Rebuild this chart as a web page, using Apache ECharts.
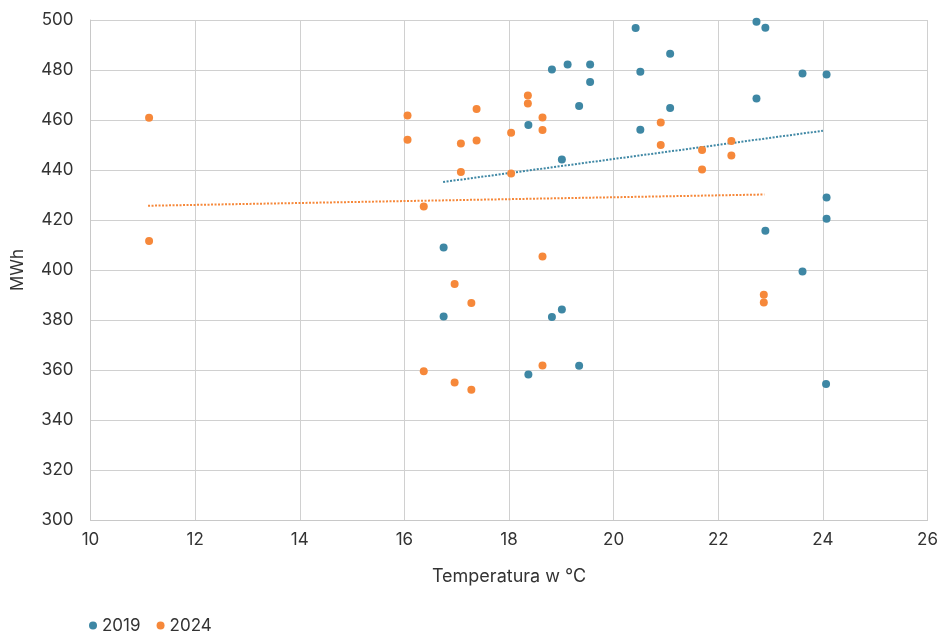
<!DOCTYPE html>
<html><head><meta charset="utf-8">
<script src="https://cdn.jsdelivr.net/npm/echarts@6/dist/echarts.min.js"></script>
<style>html,body{margin:0;padding:0;background:#fff}#c{width:941px;height:632px}</style>
</head><body><div id="c"></div>
<script>
const seriesNames = ['2019', '2024'];
const temps2019 = [22.73,22.90,20.42,21.08,18.82,19.12,19.55,19.55,20.51,19.34,21.08,18.37,20.51,19.01,22.73,23.61,24.07,24.07,24.07,22.90,23.61,24.06,16.75,16.75,18.82,19.01,18.37,19.34];
const mwh2019   = [499.3,496.9,496.8,486.5,480.2,482.2,482.2,475.2,479.3,465.6,464.8,458.0,456.1,444.2,468.6,478.6,478.2,429.0,420.5,415.7,399.4,354.4,409.0,381.4,381.2,384.2,358.2,361.7];
const temps2024 = [11.12,11.12,16.06,16.06,17.38,17.08,17.38,18.36,18.36,18.64,18.64,18.04,17.08,18.04,16.37,20.90,20.90,21.69,21.69,22.25,22.25,22.87,22.87,18.64,16.96,17.28,16.37,16.96,17.28,18.64];
const mwh2024   = [460.9,411.6,461.8,452.1,464.4,450.6,451.8,469.8,466.6,461.0,456.0,454.9,439.2,438.6,425.4,459.0,450.0,448.0,440.2,451.6,445.8,390.1,387.0,405.4,394.4,386.8,359.5,355.0,352.1,361.8];
const trend2019 = [[16.74,435.2],[24.0,455.7]];
const trend2024 = [[11.1,425.7],[22.88,430.2]];
const colors = ['#3E87A4', '#F6883A'];

const font = 'Inter, "Noto Sans", sans-serif';
const zip = (a,b) => a.map((v,i)=>[v,b[i]]);
const chart = echarts.init(document.getElementById('c'), null, {renderer:'canvas'});
chart.setOption({
  animation:false,
  textStyle:{fontFamily:font},
  grid:{left:90.5, right:13, top:20, bottom:112, containLabel:false},
  legend:{
    data:seriesNames, left:84, top:612, icon:'circle', itemWidth:8, itemHeight:8, itemGap:16,
    padding:[5,5,0,5],
    textStyle:{fontSize:17, color:'#333', fontFamily:font}
  },
  xAxis:{
    type:'value', min:10, max:26, interval:2,
    name:'Temperatura w °C', nameLocation:'middle', nameGap:48,
    nameTextStyle:{fontSize:18, color:'#333'},
    axisLine:{show:true, lineStyle:{color:'#c8c8c8'}},
    axisTick:{show:false},
    axisLabel:{fontSize:17, color:'#333', margin:11},
    splitLine:{show:true, lineStyle:{color:'#d0d0d0', width:1}}
  },
  yAxis:{
    type:'value', min:300, max:500, interval:20,
    name:'MWh', nameLocation:'middle', nameGap:64,
    nameTextStyle:{fontSize:17, color:'#333'},
    axisLine:{show:true, lineStyle:{color:'#c8c8c8'}},
    axisTick:{show:false},
    axisLabel:{fontSize:17, color:'#333', margin:17},
    splitLine:{show:true, lineStyle:{color:'#d0d0d0', width:1}}
  },
  series:[
    {name:'2019', type:'scatter', data:zip(temps2019,mwh2019), symbolSize:8, itemStyle:{color:colors[0], opacity:1}, z:3},
    {name:'2024', type:'scatter', data:zip(temps2024,mwh2024), symbolSize:8, itemStyle:{color:colors[1], opacity:1}, z:3},
    {name:'trend2019', type:'line', data:trend2019, symbol:'none', lineStyle:{color:colors[0], width:2, type:[2,1.5]}, z:2, silent:true},
    {name:'trend2024', type:'line', data:trend2024, symbol:'none', lineStyle:{color:colors[1], width:2, type:[2,1.5]}, z:2, silent:true}
  ]
});
</script></body></html>
